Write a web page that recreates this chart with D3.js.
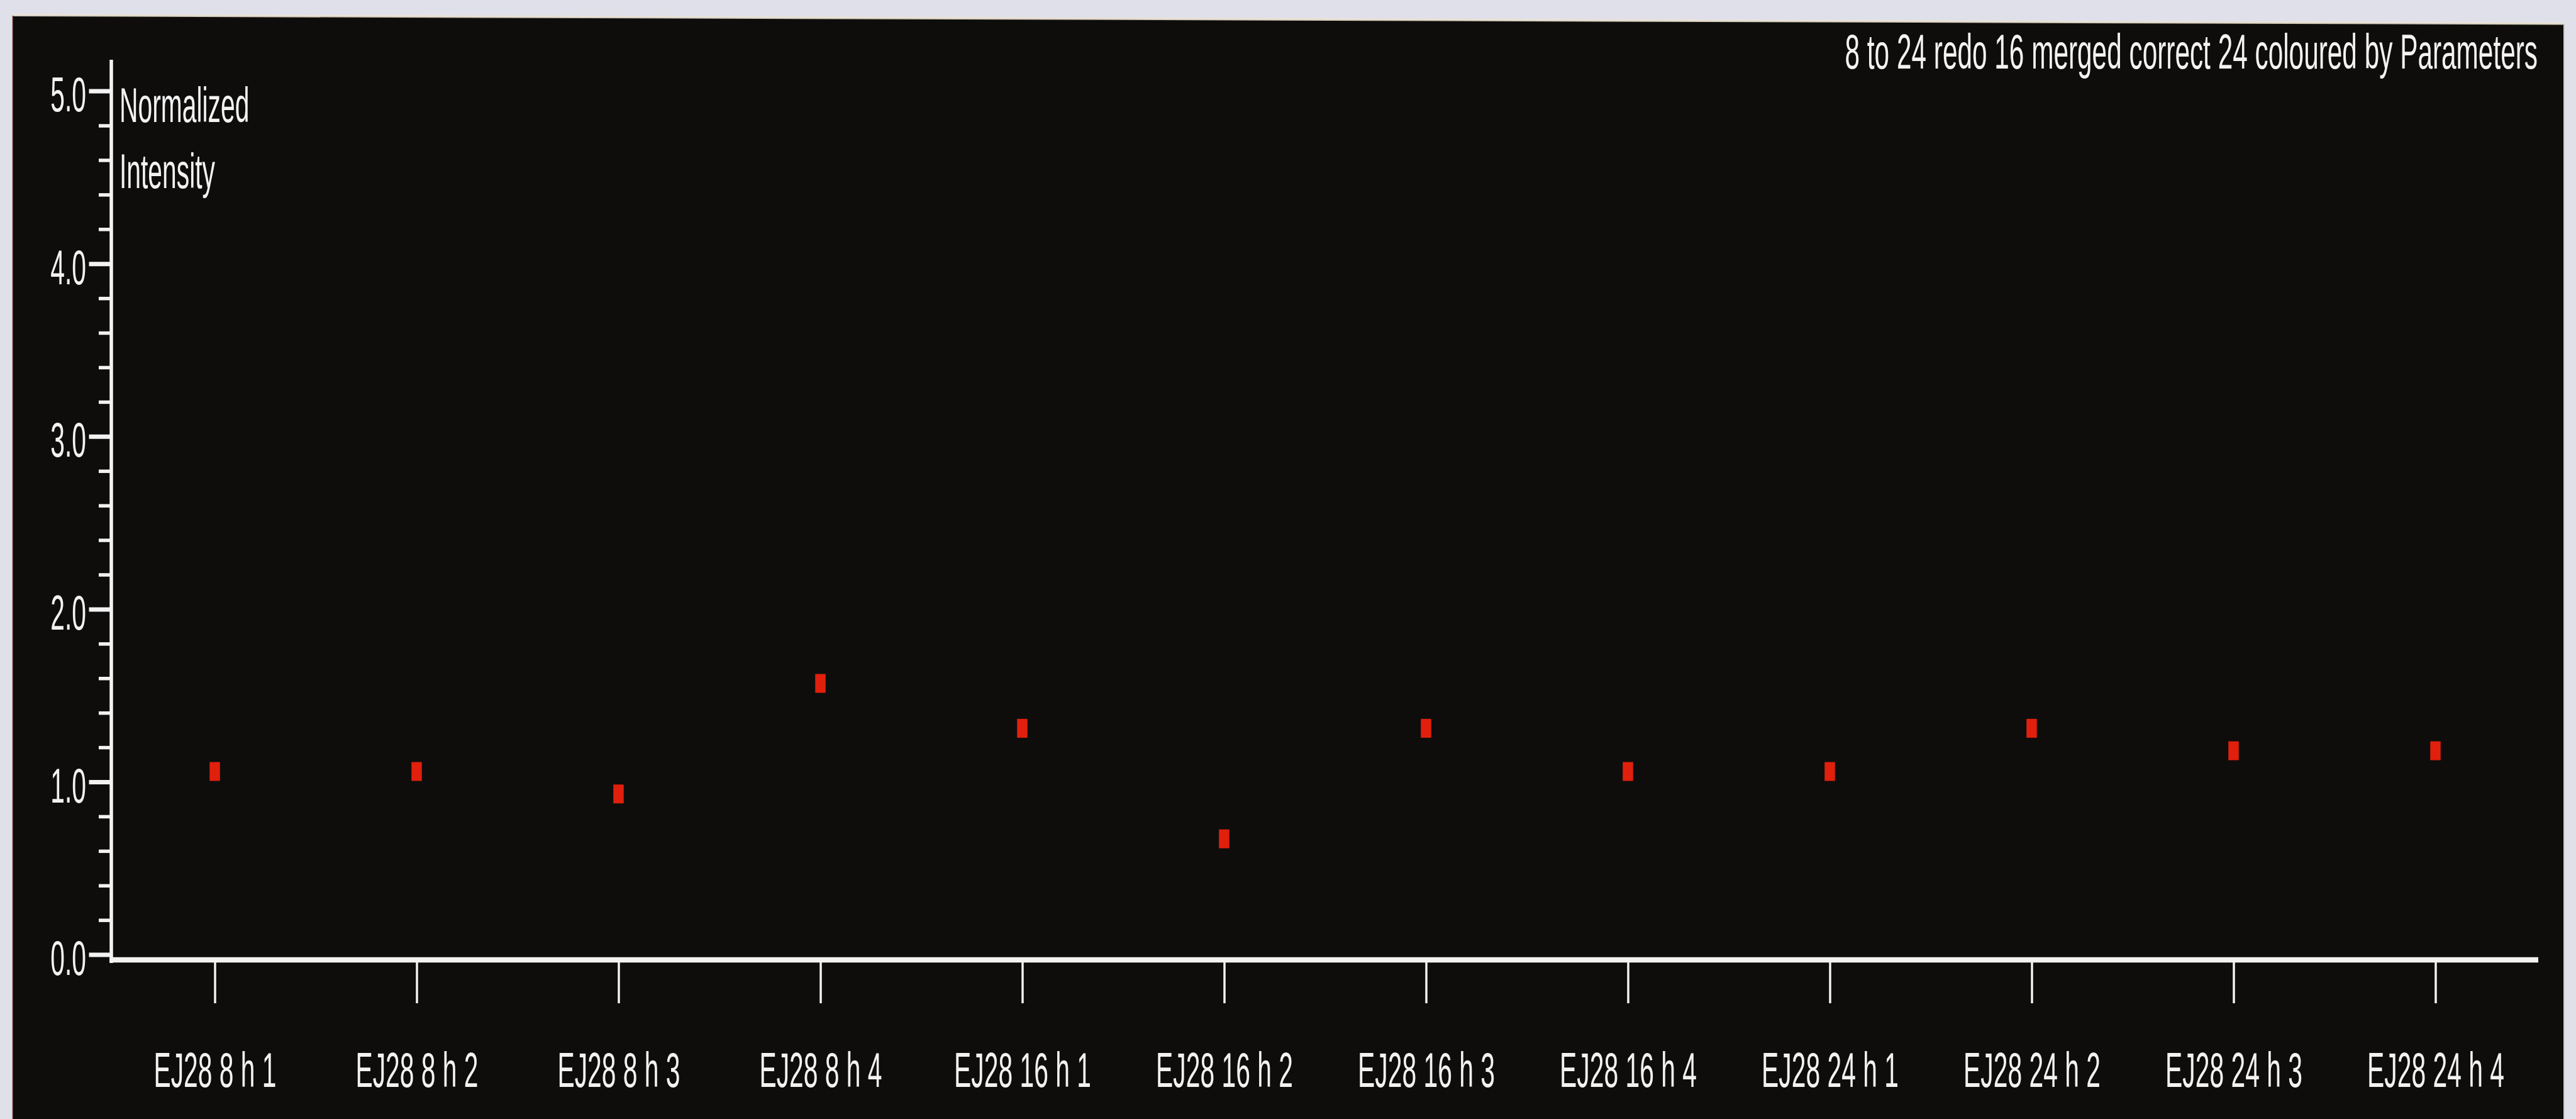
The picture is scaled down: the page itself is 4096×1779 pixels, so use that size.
<!DOCTYPE html>
<html>
<head>
<meta charset="utf-8">
<script src="https://cdn.jsdelivr.net/npm/d3@7/dist/d3.min.js"></script>
<style>
  html, body { margin: 0; padding: 0; background: #dfe0ea; overflow: hidden; }
  svg { display: block; }
  text { font-family: "Liberation Sans", Arial, Helvetica, sans-serif; fill: #f2f2f2; }
</style>
</head>
<body>
<script>
// Samples along the x axis
const categories = [
  "EJ28 8 h 1", "EJ28 8 h 2", "EJ28 8 h 3", "EJ28 8 h 4",
  "EJ28 16 h 1", "EJ28 16 h 2", "EJ28 16 h 3", "EJ28 16 h 4",
  "EJ28 24 h 1", "EJ28 24 h 2", "EJ28 24 h 3", "EJ28 24 h 4"
];
// Normalized intensity per sample
const intensity = [1.06, 1.06, 0.93, 1.57, 1.31, 0.67, 1.31, 1.06, 1.06, 1.31, 1.18, 1.18];
// Axis ticks
const majorTicks = [0, 1, 2, 3, 4, 5];
const minorTicks = [0.2, 0.4, 0.6, 0.8, 1.2, 1.4, 1.6, 1.8, 2.2, 2.4, 2.6, 2.8, 3.2, 3.4, 3.6, 3.8, 4.2, 4.4, 4.6, 4.8];
const titleText = "8 to 24 redo 16 merged correct 24 coloured by Parameters";
const yTitleLines = ["Normalized", "Intensity"];

const W = 4096, H = 1779;
const NARROW = 0.53;      // condensed lettering
const FONT = 77;

const svg = d3.select("body").append("svg")
  .attr("width", W).attr("height", H);

// dark display panel
svg.append("polygon")
  .attr("points", [[20, 24.5], [4077, 38], [4077, H], [20, H]].map(p => p.join(",")).join(" "))
  .attr("fill", "#0e0d0c");
svg.append("line")
  .attr("x1", 20).attr("y1", 24).attr("x2", 4077).attr("y2", 37.5)
  .attr("stroke", "#ece3d3").attr("stroke-width", 4).attr("opacity", 0.85);
svg.append("line")
  .attr("x1", 20.5).attr("y1", 25).attr("x2", 20.5).attr("y2", H)
  .attr("stroke", "#5a2018").attr("stroke-width", 1.5);
svg.append("line")
  .attr("x1", 4077).attr("y1", 38).attr("x2", 4077).attr("y2", H)
  .attr("stroke", "#c9c6c6").attr("stroke-width", 2);

const axisX = 177;
const y = d3.scaleLinear().domain([0, 5]).range([1517.6, 144.6]);
const x = d3.scalePoint().domain(categories).range([181, 4033]).padding(0.5);
const xAxisY = 1526;

// y axis: minor ticks
const yMinor = svg.append("g").attr("transform", `translate(${axisX},0)`)
  .call(d3.axisLeft(y).tickValues(minorTicks).tickSize(20).tickFormat(""));
yMinor.select(".domain").remove();
yMinor.selectAll(".tick line").attr("stroke", "#f2f2f2").attr("stroke-width", 5.5);

// y axis: major ticks and labels
const yMajor = svg.append("g").attr("transform", `translate(${axisX},0)`)
  .call(d3.axisLeft(y).tickValues(majorTicks).tickSize(35.5).tickFormat(d3.format(".1f")));
yMajor.select(".domain").remove();
yMajor.selectAll(".tick line").attr("stroke", "#f2f2f2").attr("stroke-width", 7);
yMajor.selectAll(".tick text")
  .attr("x", 0).attr("y", 0).attr("dy", null)
  .attr("text-anchor", "end")
  .attr("font-size", FONT)
  .attr("transform", `translate(-40,32) scale(${NARROW},1)`);

// y axis line
svg.append("line")
  .attr("x1", axisX).attr("x2", axisX).attr("y1", 95).attr("y2", 1531)
  .attr("stroke", "#f2f2f2").attr("stroke-width", 5.5);

// x axis
const xAxis = svg.append("g").attr("transform", `translate(0,${xAxisY})`)
  .call(d3.axisBottom(x).tickSize(69).tickPadding(0));
xAxis.select(".domain").remove();
xAxis.selectAll(".tick line").attr("stroke", "#f2f2f2").attr("stroke-width", 3.5);
xAxis.selectAll(".tick text")
  .attr("x", 0).attr("y", 0).attr("dy", null)
  .attr("text-anchor", "middle")
  .attr("font-size", FONT)
  .attr("transform", `translate(0,201.5) scale(${NARROW},1)`);

svg.append("line")
  .attr("x1", axisX - 2.75).attr("x2", 4036).attr("y1", xAxisY).attr("y2", xAxisY)
  .attr("stroke", "#f2f2f2").attr("stroke-width", 8.5);

// y axis title, two lines beside the axis
svg.append("g").selectAll("text")
  .data(yTitleLines).join("text")
  .attr("font-size", FONT)
  .attr("transform", (d, i) => `translate(190,${194 + i * 105}) scale(${NARROW},1)`)
  .text(d => d);

// title, top right
svg.append("text")
  .attr("font-size", FONT)
  .attr("text-anchor", "end")
  .attr("transform", `translate(4035,108.5) scale(0.55,1)`)
  .text(titleText);

// data markers
const mw = 16.5, mh = 30;
svg.append("g").selectAll("rect")
  .data(categories.map((c, i) => ({ c, v: intensity[i] })))
  .join("rect")
  .attr("x", d => x(d.c) - mw / 2)
  .attr("y", d => y(d.v) - mh / 2)
  .attr("width", mw).attr("height", mh)
  .attr("fill", "#e0200c");
</script>
</body>
</html>
